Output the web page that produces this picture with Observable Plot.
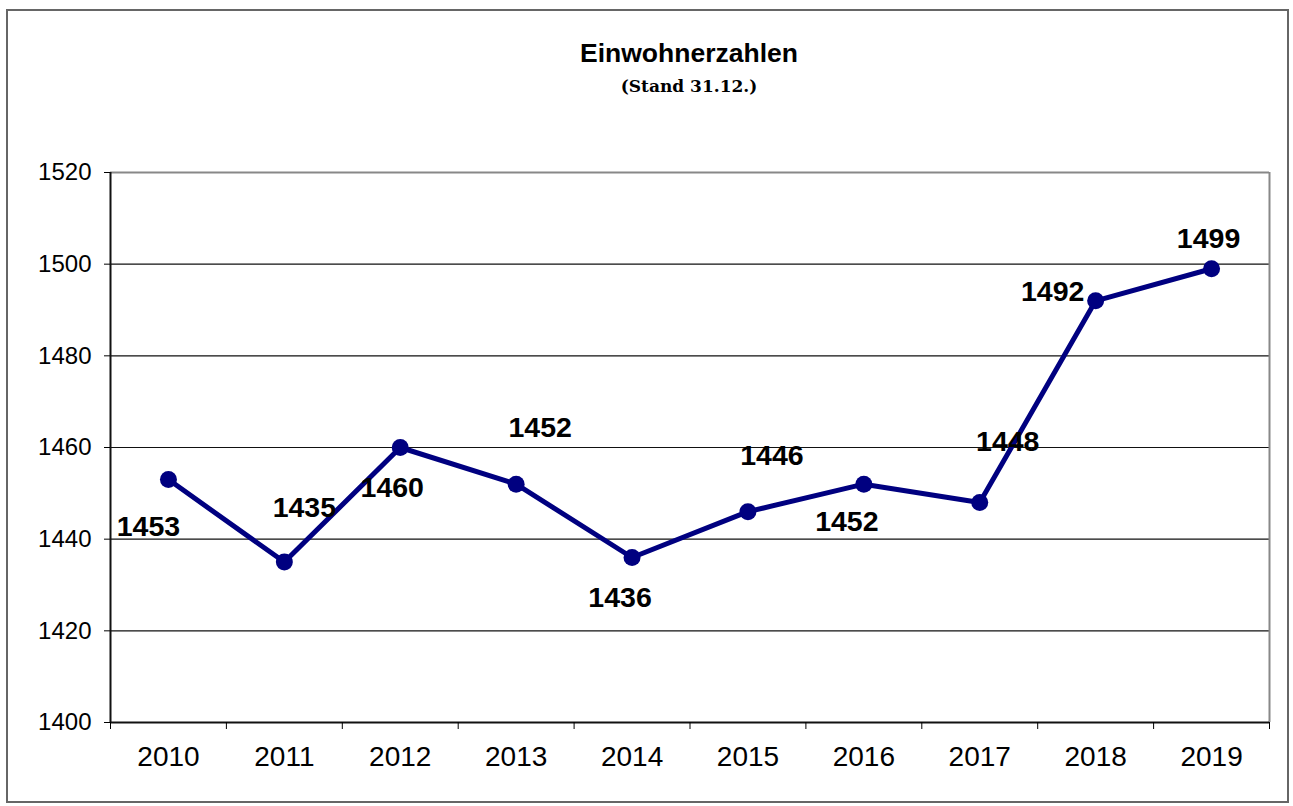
<!DOCTYPE html>
<html>
<head>
<meta charset="utf-8">
<script src="https://cdn.jsdelivr.net/npm/d3@7"></script>
<script src="https://cdn.jsdelivr.net/npm/@observablehq/plot@0.6"></script>
<style>
  html, body { margin: 0; padding: 0; background: #fff; }
  #wrap { position: relative; width: 1293px; height: 806px; overflow: hidden; }
  #border { position: absolute; left: 6px; top: 9px; width: 1279px; height: 790px; border: 2px solid #666; }
  #title { position: absolute; left: 0; width: 1378px; top: 40px; text-align: center;
           font: bold 26.5px/26px "Liberation Sans", Arial, sans-serif; color: #000; }
  #subtitle { position: absolute; left: 0; width: 1378px; top: 78px; text-align: center;
           font: bold 17px/17px "DejaVu Serif", serif; color: #000; }
  #chart { position: absolute; left: 0; top: 0; }
</style>
</head>
<body>
<div id="wrap">
  <div id="border"></div>
  <div id="chart"></div>
  <div id="title">Einwohnerzahlen</div>
  <div id="subtitle">(Stand 31.12.)</div>
</div>
<script>
const years = [2010, 2011, 2012, 2013, 2014, 2015, 2016, 2017, 2018, 2019];
const population = [1453, 1435, 1460, 1452, 1436, 1446, 1452, 1448, 1492, 1499];
const yTicks = [1400, 1420, 1440, 1460, 1480, 1500, 1520];
// label offsets (pixels) mimicking the original label placement
const labelDx = [-20, 20, -8, 24, -12, 24, -17, 28, -43, -3];
const labelDy = [47, -54, 40, -56, 40, -56, 38, -61, -9, -30];

const data = years.map((year, i) => ({year, value: population[i]}));
const boundaries = [...years.map(y => y - 0.5), years[years.length - 1] + 0.5];
const gridLines = yTicks.slice(1, -1);

const navy = "#000080";

const chart = Plot.plot({
  width: 1293,
  height: 806,
  marginLeft: 110,
  marginRight: 24,
  marginTop: 172,
  marginBottom: 84,
  style: {fontFamily: '"Liberation Sans", Arial, sans-serif', color: "#000", background: "transparent"},
  x: {domain: [boundaries[0], boundaries[boundaries.length - 1]], label: null},
  y: {domain: [yTicks[0], yTicks[yTicks.length - 1]], label: null},
  marks: [
    Plot.ruleY(gridLines, {stroke: "#111", strokeWidth: 1.2}),
    Plot.ruleY([yTicks[yTicks.length - 1]], {stroke: "#888", strokeWidth: 2}),
    Plot.ruleX([boundaries[boundaries.length - 1]], {stroke: "#888", strokeWidth: 2}),
    Plot.ruleX([boundaries[0]], {stroke: "#111", strokeWidth: 2}),
    Plot.ruleY([yTicks[0]], {stroke: "#111", strokeWidth: 2}),
    Plot.axisY(yTicks, {tickSize: 6, tickPadding: 13, fontSize: 24, tickFormat: "d", label: null}),
    Plot.axisX(years, {tickSize: 0, tickPadding: 24, fontSize: 28, tickFormat: "d", label: null}),
    Plot.axisX(boundaries, {tickSize: 7, tickFormat: () => "", label: null}),
    Plot.line(data, {x: "year", y: "value", stroke: navy, strokeWidth: 5}),
    Plot.dot(data, {x: "year", y: "value", r: 8.5, fill: navy, stroke: "none"}),
    ...data.map((d, i) => Plot.text([d], {
      x: "year", y: "value", text: d => String(d.value),
      dx: labelDx[i], dy: labelDy[i],
      fontSize: 28.5, fontWeight: "bold", fill: "#000"
    }))
  ]
});
document.getElementById("chart").appendChild(chart);
</script>
</body>
</html>
